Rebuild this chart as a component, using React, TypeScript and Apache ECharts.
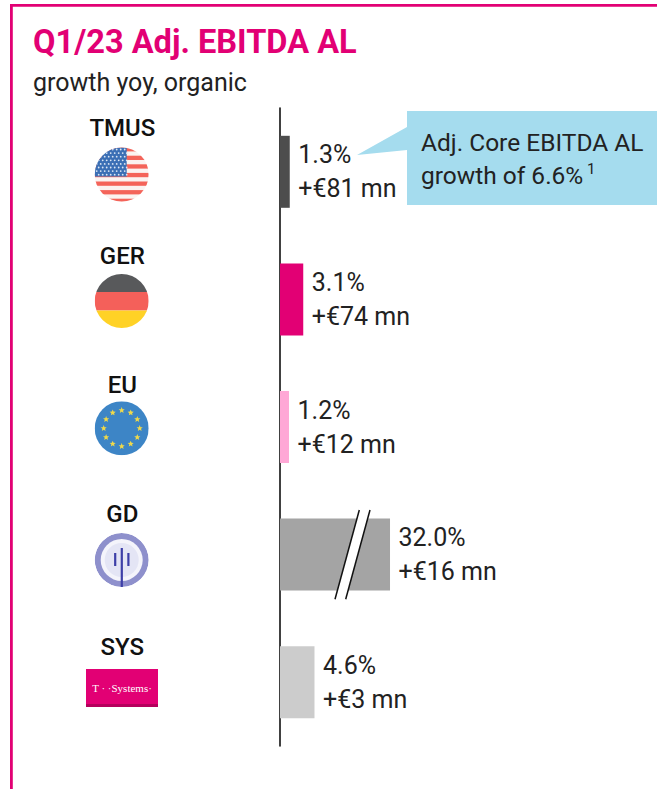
import React, { useEffect, useRef } from "react";
import * as echarts from "echarts";

const categories = ["TMUS", "GER", "EU", "GD", "SYS"];
const growthPct = [1.3, 3.1, 1.2, 32.0, 4.6];
const absoluteMn = [81, 74, 12, 16, 3];
const barColors = ["#4D4D4D", "#E20074", "#FFA8D6", "#A4A4A4", "#CCCCCC"];
const labelLift = [88, 86, 84, 82, 70];
const MAGENTA = "#E20074";
const FONT = "Roboto";

const star = (cx: number, cy: number, r: number) => {
  const pts: string[] = [];
  for (let i = 0; i < 10; i++) {
    const a = -Math.PI / 2 + (i * Math.PI) / 5;
    const rr = i % 2 ? r * 0.45 : r;
    pts.push(`${(cx + rr * Math.cos(a)).toFixed(2)},${(cy + rr * Math.sin(a)).toFixed(2)}`);
  }
  return pts.join(" ");
};

const svgUri = (body: string) =>
  "data:image/svg+xml;charset=utf-8," +
  encodeURIComponent(
    `<svg xmlns="http://www.w3.org/2000/svg" width="54" height="54" viewBox="0 0 54 54"><defs><clipPath id="c"><circle cx="27" cy="27" r="27"/></clipPath></defs><g clip-path="url(#c)">${body}</g></svg>`
  );

const usFlag = () => {
  let s = `<rect width="54" height="54" fill="#FBF3F1"/>`;
  for (let i = 0; i < 7; i++) s += `<rect y="${i * 8.6 - 0.4}" width="54" height="4.3" fill="#F4645A"/>`;
  s += `<rect width="32" height="29" fill="#3B6FB5"/>`;
  for (let r = 0; r < 8; r++)
    for (let c = 0; c < 8; c++) {
      s += `<circle cx="${2 + c * 4 + (r % 2 ? 2 : 0)}" cy="${2 + r * 3.6}" r="0.9" fill="#DCE6F4"/>`;
    }
  return svgUri(s);
};

const gerFlag = () =>
  svgUri(
    `<rect width="54" height="18" fill="#58595B"/><rect y="18" width="54" height="18.5" fill="#F4605A"/><rect y="36.5" width="54" height="18" fill="#FFD226"/>`
  );

const euFlag = () => {
  let s = `<rect width="54" height="54" fill="#3D85C6"/>`;
  for (let i = 0; i < 12; i++) {
    const a = (i * Math.PI) / 6;
    s += `<polygon points="${star(27 + 18 * Math.cos(a), 27 + 18 * Math.sin(a), 3.2)}" fill="#F0D94A"/>`;
  }
  return svgUri(s);
};

const gdLogo = () =>
  svgUri(
    `<circle cx="27" cy="27" r="27" fill="#8E90CC"/><circle cx="27" cy="27" r="21" fill="#F4F4FB"/><circle cx="27" cy="27" r="17" fill="#E4E5F5"/>` +
      `<rect x="26" y="15" width="2.2" height="39" fill="#3D3FA8"/><rect x="19.4" y="20" width="2.2" height="13" fill="#3D3FA8"/><rect x="32.6" y="20" width="2.2" height="13" fill="#3D3FA8"/>`
  );

const flagItem = (uri: string, cy: number) => ({
  type: "image",
  style: { image: uri, x: 94.7, y: cy - 27, width: 54, height: 54 },
});

export default function App() {
  const ref = useRef<HTMLDivElement>(null);
  useEffect(() => {
    const chart = echarts.init(ref.current!, undefined, { renderer: "svg" });
    const rich: Record<string, any> = {};
    labelLift.forEach((p, i) => {
      rich[`l${i}`] = {
        fontFamily: FONT,
        fontSize: 24,
        fontWeight: 500,
        color: "#111",
        padding: [0, 0, p, 0],
      };
    });
    chart.setOption({
      animation: false,
      backgroundColor: "#fff",
      title: {
        left: 33,
        top: 25,
        padding: 0,
        text: "Q1/23 Adj. EBITDA AL",
        textStyle: { fontFamily: FONT, fontSize: 32.6, fontWeight: "bold", color: MAGENTA },
        subtext: "growth yoy, organic",
        itemGap: 12,
        subtextStyle: { fontFamily: FONT, fontSize: 25, fontWeight: "normal", color: "#222" },
      },
      grid: { left: 280, top: 108, width: 320, bottom: 43, containLabel: false },
      xAxis: {
        type: "value",
        min: 0,
        max: 60,
        show: false,
        splitLine: { show: false },
        breaks: [{ start: 10, end: 28, gap: 0.67 }],
        breakArea: { show: false },
      },
      yAxis: {
        type: "category",
        inverse: true,
        data: categories,
        offset: 0.7,
        axisLine: { show: true, lineStyle: { color: "#111", width: 1.6 } },
        axisTick: { show: false },
        axisLabel: {
          margin: 157,
          align: "center",
          formatter: (v: string) => `{l${categories.indexOf(v)}|${v}}`,
          rich,
        },
      },
      series: [
        {
          type: "bar",
          barWidth: 72,
          data: growthPct.map((v, i) => ({ value: v, itemStyle: { color: barColors[i] } })),
          label: {
            show: true,
            position: "right",
            distance: 8.5,
            fontFamily: FONT,
            fontSize: 25,
            lineHeight: 34,
            color: "#222",
            formatter: (p: any) =>
              `${growthPct[p.dataIndex].toFixed(1)}%\n+€${absoluteMn[p.dataIndex]} mn`,
          },
        },
      ],
      graphic: [
        {
          type: "polyline",
          silent: true,
          shape: { points: [[11.4, 789], [11.4, 5.4], [657, 5.4]] },
          style: { fill: "none", stroke: MAGENTA, lineWidth: 2.8 },
        },
        flagItem(usFlag(), 174.5),
        flagItem(gerFlag(), 301),
        flagItem(euFlag(), 428.3),
        flagItem(gdLogo(), 560),
        { type: "rect", shape: { x: 86, y: 669, width: 72, height: 38 }, style: { fill: MAGENTA } },
        { type: "rect", shape: { x: 86, y: 704, width: 72, height: 3 }, style: { fill: "#B4005C" } },
        {
          type: "text",
          style: {
            x: 122,
            y: 688,
            text: "T · ·Systems·",
            align: "center",
            verticalAlign: "middle",
            fill: "#fff",
            font: '11px "Liberation Serif"',
          },
        },
        {
          type: "polygon",
          z: 10,
          shape: { points: [[407, 111], [657, 111], [657, 205], [407, 205], [407, 150], [357, 155], [407, 127]] },
          style: { fill: "#A5DCEE" },
        },
        {
          type: "text",
          z: 11,
          style: {
            x: 421,
            y: 142,
            text: "Adj. Core EBITDA AL",
            verticalAlign: "middle",
            fill: "#222",
            font: `24.5px ${FONT}`,
          },
        },
        {
          type: "text",
          z: 11,
          style: {
            x: 421,
            y: 175,
            text: "growth of 6.6%",
            verticalAlign: "middle",
            fill: "#222",
            font: `24.5px ${FONT}`,
          },
        },
        {
          type: "text",
          z: 11,
          style: {
            x: 587,
            y: 169,
            text: "1",
            verticalAlign: "middle",
            fill: "#222",
            font: `15px ${FONT}`,
          },
        },
        {
          type: "polygon",
          z: 10,
          shape: { points: [[359.3, 510], [370, 510], [345.7, 599.3], [335, 599.3]] },
          style: { fill: "#fff" },
        },
        {
          type: "line",
          z: 11,
          shape: { x1: 359.3, y1: 510, x2: 335, y2: 599.3 },
          style: { stroke: "#111", lineWidth: 1.5 },
        },
        {
          type: "line",
          z: 11,
          shape: { x1: 370, y1: 510, x2: 345.7, y2: 599.3 },
          style: { stroke: "#111", lineWidth: 1.5 },
        },
      ],
    });
    return () => chart.dispose();
  }, []);
  return (
    <div
      ref={ref}
      style={{ position: "absolute", left: 0, top: 0, width: 657, height: 789, background: "#fff" }}
    />
  );
}
